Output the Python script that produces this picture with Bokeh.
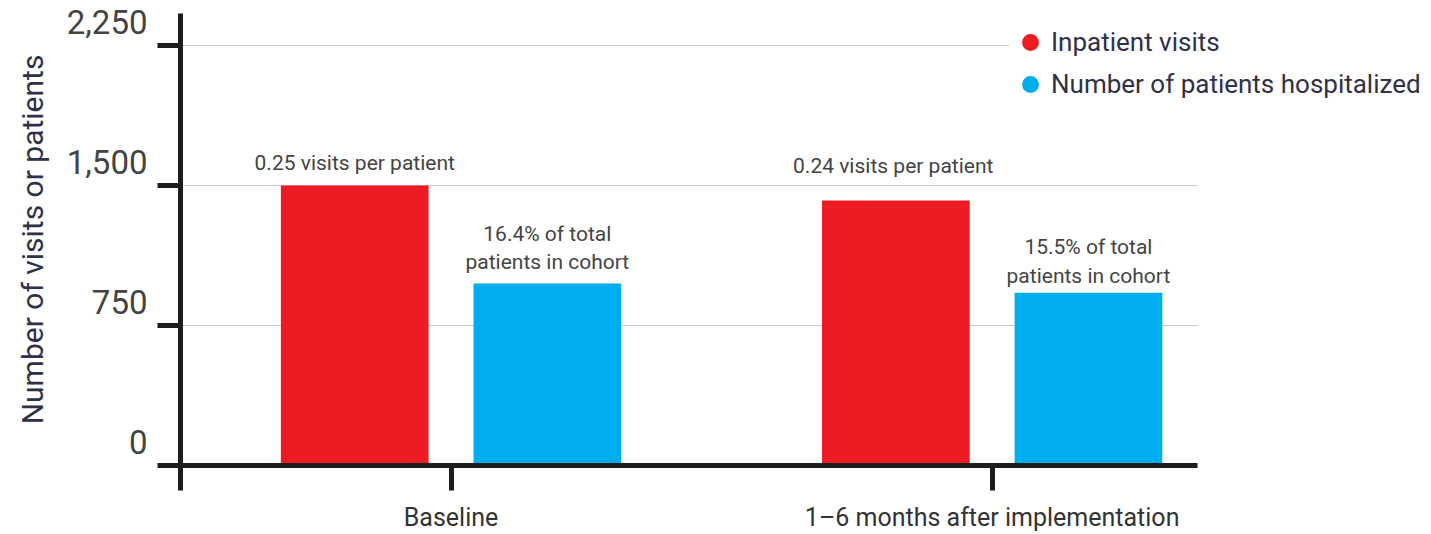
from bokeh.plotting import figure
from bokeh.models import Range1d, FixedTicker, ColumnDataSource, Legend, LegendItem
from bokeh.transform import dodge
from bokeh.core.properties import value
from bokeh.embed import file_html
from bokeh.resources import INLINE

# ---- data ----
categories = ["Baseline", "1\u20136 months after implementation"]
inpatient_visits = [1500, 1420]
patients_hospitalized = [975, 925]
visit_labels = ["0.25 visits per patient", "0.24  visits per patient"]
patient_labels = ["16.4% of total\npatients in cohort", "15.5% of total\npatients in cohort"]
y_ticks = [0, 750, 1500, 2250]
series_names = ["Inpatient visits", "Number of patients hospitalized"]

# ---- styles ----
RED = "#ED1C24"
BLUE = "#00AEEF"
AXIS = "#1d1d1d"
FONT = "Roboto"
visit_label_offsets = [-10, -22]
patient_label_offsets = [-9, -5]

X_START, X_AXIS_END, X_END = -0.5, 1.38, 1.812

pos = list(range(len(categories)))
src = ColumnDataSource(dict(
    pos=pos, red=inpatient_visits, blue=patients_hospitalized,
    red_mid=[v / 2 for v in inpatient_visits], blue_mid=[v / 2 for v in patients_hospitalized],
    rl=visit_labels, bl=patient_labels,
    roff=visit_label_offsets, boff=patient_label_offsets,
))

p = figure(width=1431, height=534, output_backend="svg", toolbar_location=None,
           x_range=Range1d(X_START, X_END), y_range=Range1d(0, 2421),
           min_border_left=180, min_border_right=0, min_border_top=13, min_border_bottom=69)
p.outline_line_color = None
p.background_fill_color = "white"
p.border_fill_color = "white"

DX = 0.178
W = 0.273

# legend markers (hidden beneath the bars)
r1 = p.scatter(x=dodge("pos", -DX, range=p.x_range), y="red_mid", source=src,
               marker="circle", size=20, fill_color=RED, line_color=None)
r2 = p.scatter(x=dodge("pos", DX, range=p.x_range), y="blue_mid", source=src,
               marker="circle", size=20, fill_color=BLUE, line_color=None)

p.vbar(x=dodge("pos", -DX, range=p.x_range), top="red", width=W, bottom=0,
       source=src, fill_color=RED, line_color=None)
p.vbar(x=dodge("pos", DX, range=p.x_range), top="blue", width=W, bottom=0,
       source=src, fill_color=BLUE, line_color=None)

p.text(x=dodge("pos", -DX, range=p.x_range), y="red", text="rl", source=src,
       y_offset="roff", text_align="center", text_baseline="bottom",
       text_font=value(FONT), text_font_size="21px", text_color="#444444")
p.text(x=dodge("pos", DX, range=p.x_range), y="blue", text="bl", source=src,
       y_offset="boff", text_align="center", text_baseline="bottom",
       text_font=value(FONT), text_font_size="21px", text_color="#444444",
       text_line_height=1.2)

legend = Legend(items=[LegendItem(label=series_names[0], renderers=[r1]),
                       LegendItem(label=series_names[1], renderers=[r2])],
                location=(829, 360), orientation="vertical",
                label_text_font=FONT, label_text_font_size="26px", label_text_color="#30304a",
                glyph_width=42, glyph_height=42, label_height=30, spacing=0,
                label_standoff=0, padding=10, margin=0,
                background_fill_color="white", background_fill_alpha=1.0,
                border_line_color=None)
p.add_layout(legend, "center")

# grid
p.xgrid.visible = False
p.ygrid.ticker = FixedTicker(ticks=y_ticks)
p.ygrid.grid_line_color = "#c8c8c8"
p.ygrid.grid_line_width = 1.2
p.ygrid.cross_bounds = (X_START, X_AXIS_END)

# y axis
ya = p.yaxis[0]
ya.ticker = FixedTicker(ticks=y_ticks)
ya.major_label_overrides = {t: f"{t:,}\n" for t in y_ticks}
ya.axis_line_width = 5
ya.axis_line_color = AXIS
ya.major_tick_line_width = 5
ya.major_tick_line_color = AXIS
ya.major_tick_out = 23
ya.major_tick_in = 0
ya.minor_tick_line_color = None
ya.major_label_text_font = FONT
ya.major_label_text_font_size = "33px"
ya.major_label_text_color = "#444444"
ya.major_label_standoff = 10
ya.axis_label = "Number of visits or patients"
ya.axis_label_text_font = FONT
ya.axis_label_text_font_size = "30px"
ya.axis_label_text_font_style = "normal"
ya.axis_label_text_color = "#30304a"
ya.axis_label_standoff = 14

# x axis
xa = p.xaxis[0]
xa.bounds = (X_START, X_AXIS_END)
xa.ticker = FixedTicker(ticks=[X_START] + pos)
ov = {X_START: ""}
for i, c in zip(pos, categories):
    ov[i] = c
xa.major_label_overrides = ov
xa.axis_line_width = 5
xa.axis_line_color = AXIS
xa.major_tick_line_width = 5
xa.major_tick_line_color = AXIS
xa.major_tick_out = 25
xa.major_tick_in = 0
xa.minor_tick_line_color = None
xa.major_label_text_font = FONT
xa.major_label_text_font_size = "25px"
xa.major_label_text_color = "#333333"
xa.major_label_standoff = 12

open("out.html", "w").write(file_html(p, INLINE))
